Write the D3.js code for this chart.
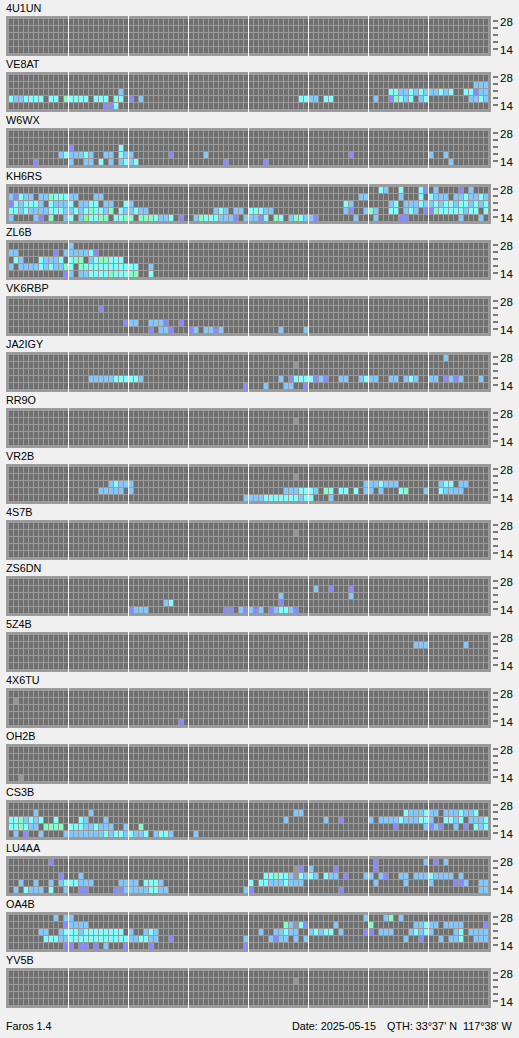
<!DOCTYPE html>
<html><head><meta charset="utf-8">
<script src="https://cdn.jsdelivr.net/npm/d3@7"></script>
<style>
html,body{margin:0;padding:0;background:#f0f0f0;overflow:hidden}
text{font-family:"Liberation Sans",Arial,sans-serif;font-size:10.8px;fill:#000}
</style></head><body><svg id="c" width="519" height="1038"></svg>
<script>
// Each station: five strings, one per band (28, 24, 21, 18, 14 MHz).
// Entry = time slot number + signal level (v,b,c,g,G strength; x = no-beacon slot).
const bands = [28, 24, 21, 18, 14];
const bandTickLabels = {28: "28", 14: "14"};
const slots = d3.range(96);
const levels = ["x", "v", "b", "c", "g", "G"];
const levelColors = ["#999999", "#8888ff", "#80c8ff", "#80ffff", "#80ffc0", "#80ff80"];

const s4U1UN = ["", "", "", "", ""];
const sVE8AT = ["",
 "93b 94b 95b",
 "22b 76c 77c 78b 79b 80c 81b 82c 83b 84b 85b 86c 87b 88c 91c 92c 93v 94b 95b",
 "0c 1b 2b 3c 4c 5c 6c 8c 9c 11g 12c 13c 14c 15c 17c 18c 19c 21c 22c 24v 26b 58c 59c 60b 61b 63c 64c 73b 76v 77g 78c 79b 80c 82b 83c 92b 93b 94c 95b",
 "19v 20v 21c"];
const sW6WX = ["", "",
 "12v 22c",
 "10b 11c 12b 13b 14b 15c 16b 19b 20b 22c 23b 24b 32v 39b 68v 84b 87b",
 "5v 12b 15b 16b 18c 20b 22b 23c 24b 25c 43v 51v 88b"];
const sKH6RS = [
 "74c 75b 78c 82c 83v 85b 90v 92b",
 "0b 1v 2c 3b 4b 6b 7b 8g 9c 10c 11c 12b 13b 17b 18b 70b 71b 78b 82c 84c 85b 86b 87b 89b 90b 91c 92b 93b 94c 95b",
 "0v 1c 2b 3c 4c 5c 6b 8c 9b 10b 11b 12c 14b 15b 16c 17c 19b 20b 23c 24b 67c 68b 76b 77c 79b 80b 81b 82c 83b 84b 85c 86b 87c 88c 89b 90c 91c 92b 93c 94b 95c",
 "0c 1c 2b 3c 4b 5b 6b 7b 8c 9c 10c 11b 12b 13c 14b 15c 16g 17c 18c 19b 20g 22c 23b 24b 25c 26b 27b 41b 42c 43b 45b 46b 48c 49c 50c 51b 52b 67b 68v 71b 72g 73b 76c 77c 79b 80c 81b 83v 84v 85g 86c 87c 88c 89c 90c 91b 92c 93c 95c",
 "0b 5b 6v 8g 11b 12c 14b 15G 16c 17c 18g 19g 21c 22c 23g 24g 26g 27g 28g 29c 30b 31b 32c 34v 37b 38g 39c 40c 41c 42b 43b 44b 45v 47b 48b 49b 50v 51c 53g 54c 56b 57g 58c 59b 60b 61v 69b 73b 78v 79v 90b 94b"];
const sZL6B = [
 "12b",
 "0b 1b 9v 11b 12b 13b 14b 15b 16c 17v",
 "1c 2b 6c 7b 8b 9b 10c 12c 13g 14g 16b 17c 18g 19g 20c 21c 22c",
 "0b 2b 3b 4b 5b 6c 7b 8c 9b 10b 11g 12c 14g 15c 16c 17c 18c 19c 20c 21c 22c 23c 24c 25c 28b",
 "11v 12b 14b 15b 16c 17c 18c 19c 20g 21c 22c 23c 24g 25g 28c"];
const sVK6RBP = ["",
 "18v", "",
 "23v 24b 25b 28b 29b 30b 31v 34v",
 "28v 30b 31b 32v 36v 37b 39b 40b 41v 42b 54b 59b"];
const sJA2IGY = [
 "87b",
 "57x", "",
 "16b 17b 18b 19b 20b 21c 22c 23c 24c 25c 26b 54b 56v 57c 58c 59c 60c 61v 62b 63v 66b 67b 70b 71c 72b 73b 76b 77b 79b 80c 81b 84b 85b 87v 88b 89v 90b 94b",
 "47v 51b 55b 56b 59v"];
const sRR9O = ["", "57x", "", "", ""];
const sVR2B = ["",
 "57x",
 "20b 21c 22b 23b 24b 71b 72b 73b 74c 75b 76b 77b 86b 87c 88c 90b 91b",
 "18b 19b 20b 21b 22b 24b 55b 56b 57b 58c 59c 60c 61b 63g 64c 66c 67c 69c 71b 72b 74b 78c 79g 83b 86c 87b 88b 89b 90b",
 "47b 48b 49b 50b 51c 52c 53c 54c 55c 56c 57c 58b 59c 60c 64b"];
const s4S7B = ["", "57x", "", "", ""];
const sZS6DN = ["",
 "61b 64v 68v",
 "54b 68b",
 "31b 32c 54v",
 "24v 25b 26b 27b 43v 44v 46b 47v 48b 49v 50b 52v 53b 54c 55c 56b 57v"];
const s5Z4B = ["", "81b 82b 83b 91b", "", "", ""];
const s4X6TU = ["", "1x", "", "", "34v"];
const sOH2B = ["", "", "", "", "2x"];
const sCS3B = ["",
 "5b 16b 57b 58b 79c 80b 81b 82b 83c 84b 85b 87b 88b 89b 90c 91b 92b 93c",
 "0c 1c 2g 3b 4c 5b 6c 9c 14c 15b 19b 55b 63b 66v 72b 74b 75b 76b 77b 78c 79b 80b 81b 82c 83c 84b 87c 88c 89b 90c 92b 93b 94b 95c",
 "0c 1c 2g 3c 4b 5b 7g 8g 9g 10g 12c 13c 14c 15b 16b 17c 18b 19b 20b 23b 26g 77v 83b 84v 85b 86v 89b 91v 93c 94b 95c",
 "1b 3v 6b 11b 12b 13b 14b 15b 16b 17b 18b 19c 20b 21c 22c 23b 24c 25b 26b 27c 29b 30c 31c 32b 37b"];
const sLU4AA = [
 "8v 73v 83b 85v 87b",
 "57x 58v 60b 65v 73v",
 "10v 14b 51c 52c 53g 54c 55c 56b 57x 58c 59b 60c 61b 63c 64b 65b 67v 71b 72b 74b 75v 78b 79b 81b 82b 83b 84c 85b 86b 87b 88b 90b",
 "2b 5b 8b 10b 11c 12c 13c 14b 15b 16b 22b 23b 24b 25b 27c 28c 29c 30b 48c 50c 51c 52b 53b 54b 55c 56b 57b 58b 73b 79b 84b 89v 90v 91b 94b 95b",
 "1b 3c 4b 5b 6b 8c 11b 14v 15v 21v 22v 23b 24b 25b 26b 27b 28c 29c 30b 31b 47b 48v 66v 94b 95b"];
const sOA4B = [
 "9b 11b 12b 71b 75b 76g 78b",
 "11v 12b 13b 14b 15b 55g 56b 57x 58c 59v 65b 72g 81b 82b 83c 84b 85b 87b 88b 89b 90b 95v",
 "6b 7b 10b 11c 12c 13c 14b 15c 16c 17c 18c 19c 20c 21c 22c 24b 27b 28c 29b 50b 53b 54b 55c 56b 57b 60b 61c 62b 63c 64c 66b 71v 72v 74b 75b 76b 80b 81c 82b 83c 84b 89b 90c 92b 93b 94b 95b",
 "7c 8c 9c 10b 11b 12c 13c 14c 15c 16c 17c 18c 19c 20c 21c 22c 23c 24b 25b 26c 27c 28b 29b 32v 47b 52b 53v 54b 55b 57b 59b 79b 82v 86b 88b 89b 90c 93b 94b 95b",
 "11v 12v 14v 15v 17v 19b 23v 28v 47v"];
const sYV5B = ["", "57x", "", "", ""];

const stations = [
 ["4U1UN", s4U1UN], ["VE8AT", sVE8AT], ["W6WX", sW6WX], ["KH6RS", sKH6RS], ["ZL6B", sZL6B], ["VK6RBP", sVK6RBP],
 ["JA2IGY", sJA2IGY], ["RR9O", sRR9O], ["VR2B", sVR2B], ["4S7B", s4S7B], ["ZS6DN", sZS6DN], ["5Z4B", s5Z4B],
 ["4X6TU", s4X6TU], ["OH2B", sOH2B], ["CS3B", sCS3B], ["LU4AA", sLU4AA], ["OA4B", sOA4B], ["YV5B", sYV5B]];
const hourLines = [12, 24, 36, 48, 60, 72, 84];
const footerLeft = "Faros 1.4";
const footerDate = "Date: 2025-05-15";
const footerQth = "QTH: 33°37' N  117°38' W";

const svg = d3.select("#c");
const x = d3.scaleBand().domain(slots).range([9, 488]).paddingInner(0.2);
const y = d3.scaleBand().domain(bands).range([3, 37]).paddingInner(1 / 7);
const color = d3.scaleOrdinal().domain(levels).range(levelColors);
const py = d3.scaleBand().domain(stations.map(d => d[0])).range([16, 16 + 56 * 18]).paddingInner(0);
const axis = d3.axisRight(y).tickSize(5).tickPadding(2).tickFormat(b => bandTickLabels[b] || "");

function parse(rows) {
  const out = [];
  rows.forEach((s, r) => s.split(" ").filter(Boolean).forEach(t => {
    out.push({band: bands[r], slot: +t.slice(0, -1), level: t.slice(-1)});
  }));
  return out;
}
const cells = d3.cross(slots, bands).map(([slot, band]) => ({slot, band}));

const g = svg.selectAll("g.p").data(stations).join("g").attr("class", "p")
  .attr("transform", d => `translate(0,${py(d[0])})`);
g.append("text").attr("x", 6).attr("y", -4).text(d => d[0]);
g.append("rect").attr("x", 6).attr("y", 0).attr("width", 485).attr("height", 40).attr("fill", "#9b9b9b");
g.selectAll("rect.cell").data(cells).join("rect").attr("class", "cell")
  .attr("x", d => x(d.slot)).attr("y", d => y(d.band))
  .attr("width", x.bandwidth()).attr("height", y.bandwidth()).attr("fill", "#707070");
g.selectAll("rect.sig").data(d => parse(d[1])).join("rect").attr("class", "sig")
  .attr("x", d => x(d.slot)).attr("y", d => y(d.band))
  .attr("width", x.bandwidth()).attr("height", y.bandwidth()).attr("fill", d => color(d.level));
g.selectAll("rect.hr").data(hourLines).join("rect").attr("class", "hr")
  .attr("x", d => x(d) - 1).attr("y", 0).attr("width", 1).attr("height", 40).attr("fill", "#fff");
g.append("g").attr("transform", "translate(493,0)").call(axis)
  .call(a => a.select(".domain").remove())
  .call(a => a.selectAll("line").attr("stroke", "#000").attr("transform", "translate(0,-1)"))
  .call(a => a.selectAll("text").attr("fill", "#000").style("font-family", '"Liberation Sans"').style("font-size", "11.5px"));
svg.append("text").attr("x", 6).attr("y", 1030).text(footerLeft);
svg.append("text").attr("x", 292).attr("y", 1030).text(footerDate);
svg.append("text").attr("x", 387).attr("y", 1030).style("white-space", "pre").text(footerQth);
</script></body></html>
